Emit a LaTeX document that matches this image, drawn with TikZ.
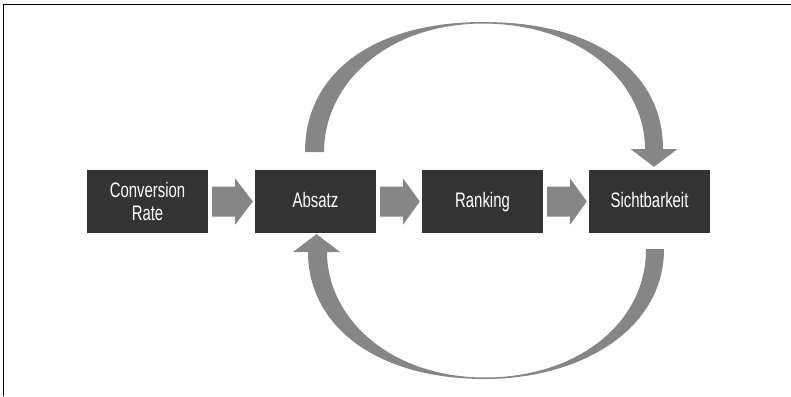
\documentclass[tikz,border=0pt]{standalone}
\usepackage{fontspec}
\setmainfont{Liberation Sans}[FakeStretch=0.71]
\usetikzlibrary{calc}
\definecolor{boxc}{HTML}{333333}
\definecolor{arrc}{HTML}{868686}
\begin{document}
\begin{tikzpicture}[x=1pt,y=-1pt,
  stepbox/.style={fill=boxc,text=white,minimum width=121pt,minimum height=63pt,
    inner sep=0pt,align=center,font=\fontsize{21}{23}\selectfont},
  oneline/.style={text height=15pt,text depth=3pt},
  arr/.style={fill=arrc}]
\useasboundingbox (0,0) rectangle (791,396);
\draw[line width=0.9pt] (3,396) -- (3,4) -- (791,4);

\node[stepbox] (cr) at (147.5,201.5) {Conversion\\Rate};
\node[stepbox,oneline] (ab) at (315.5,201.5) {Absatz};
\node[stepbox,oneline] (rk) at (482.5,201.5) {Ranking};
\node[stepbox,oneline] (sb) at (649.5,201.5) {Sichtbarkeit};

\foreach \a/\b in {cr/ab, ab/rk, rk/sb}{
  \fill[arr] ($(\a.east)+(4,-15)$) -- ($(\a.east)+(27,-15)$) -- ($(\a.east)+(27,-23)$)
    -- ($(\b.west)+(-2,0)$) -- ($(\a.east)+(27,23)$) -- ($(\a.east)+(27,15)$)
    -- ($(\a.east)+(4,15)$) -- cycle;
}

% upper feedback arrow: Absatz -> Sichtbarkeit
\coordinate (tt) at ($(sb.north)+(4.5,-3)$);
\fill[arr] (305,152) .. controls (305,72) and (375,22) .. (483,22)
  .. controls (600,22) and (663,75) .. (663,149)
  -- (677.5,149) -- (tt) -- (630.5,149) -- (645,149)
  .. controls (645,85) and (585,24) .. (483,23.5)
  .. controls (385,24) and (324,85) .. (324,152) -- cycle;

% lower feedback arrow: Sichtbarkeit -> Absatz
\coordinate (bt) at ($(ab.south)+(1,1)$);
\fill[arr] (664,249) .. controls (664,330) and (580,379) .. (485,379)
  .. controls (375,379) and (308,325) .. (308,252)
  -- (293,252) -- (bt) -- (340,252) -- (327,252)
  .. controls (327,318) and (390,377.5) .. (485,377.5)
  .. controls (575,377.5) and (646,325) .. (646,249) -- cycle;
\end{tikzpicture}
\end{document}
